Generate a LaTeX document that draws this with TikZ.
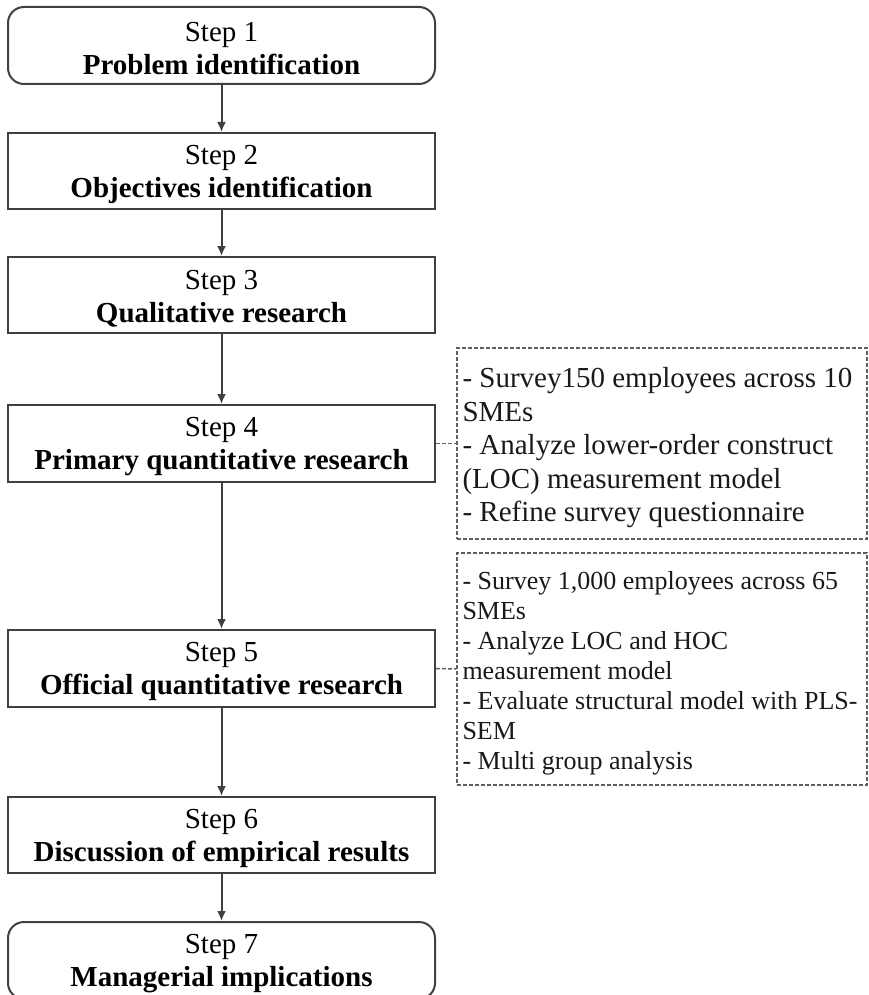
\documentclass[tikz,border=0pt]{standalone}
\usepackage{fontspec}
\setmainfont{Liberation Serif}
\usetikzlibrary{arrows.meta}
\definecolor{linec}{HTML}{404040}
\definecolor{dashc}{HTML}{606060}
\newcommand{\mystrut}[1]{\rule{0pt}{#1}}
\begin{document}
\begin{tikzpicture}[x=1pt,y=-1pt,
  stepbox/.style={draw=linec, line width=2pt, minimum width=427pt, minimum height=77pt,
    inner sep=0pt, align=center, font=\fontsize{29}{33}\selectfont, text=black},
  endbox/.style={stepbox, rounded corners=16pt},
  notebox/.style={draw=dashc, dash pattern=on 4pt off 2pt, line width=1.5pt,
    minimum width=410pt, inner xsep=5.5pt, inner ysep=0pt, text width=399pt, align=flush left, text=black!90},
  arr/.style={-{Latex[length=10pt,width=9pt]}, line width=2pt, draw=linec},
  link/.style={draw=dashc, dash pattern=on 4pt off 2pt, line width=1.5pt}]
\useasboundingbox (0,0) rectangle (869,995);
\clip (0,0) rectangle (869,995);

\node[endbox]  (s1) at (221.5,45.5) {\mystrut{26pt}Step 1\\\textbf{Problem identification}};
\node[stepbox, minimum height=76pt] (s2) at (221.5,171) {\mystrut{26pt}Step 2\\\textbf{Objectives identification}};
\node[stepbox, minimum height=76pt] (s3) at (221.5,295) {\mystrut{26pt}Step 3\\\textbf{Qualitative research}};
\node[stepbox] (s4) at (221.5,443.5) {\mystrut{26pt}Step 4\\\textbf{Primary quantitative research}};
\node[stepbox] (s5) at (221.5,668.5) {\mystrut{26pt}Step 5\\\textbf{Official quantitative research}};
\node[stepbox, minimum height=76pt] (s6) at (221.5,835) {\mystrut{26pt}Step 6\\\textbf{Discussion of empirical results}};
\node[endbox]  (s7) at (221.5,960.5) {\mystrut{26pt}Step 7\\\textbf{Managerial implications}};

\node[notebox, minimum height=191pt, font=\fontsize{29}{33.5}\selectfont] (n1) at (662,443.5)
  {\mystrut{29pt}- Survey150 employees across 10\\SMEs\\- Analyze lower-order construct\\(LOC) measurement model\\- Refine survey questionnaire};
\node[notebox, minimum height=232pt, font=\fontsize{26}{30}\selectfont] (n2) at (662,669)
  {\mystrut{27pt}- Survey 1,000 employees across 65\\SMEs\\- Analyze LOC and HOC\\measurement model\\- Evaluate structural model with PLS-\\SEM\\- Multi group analysis};

\draw[arr] (s1) -- (s2);
\draw[arr] (s2) -- (s3);
\draw[arr] (s3) -- (s4);
\draw[arr] (s4) -- (s5);
\draw[arr] (s5) -- (s6);
\draw[arr] (s6) -- (s7);

\draw[link] (s4.east) -- (n1.west);
\draw[link] (s5.east) -- (n2.west);
\end{tikzpicture}
\end{document}
